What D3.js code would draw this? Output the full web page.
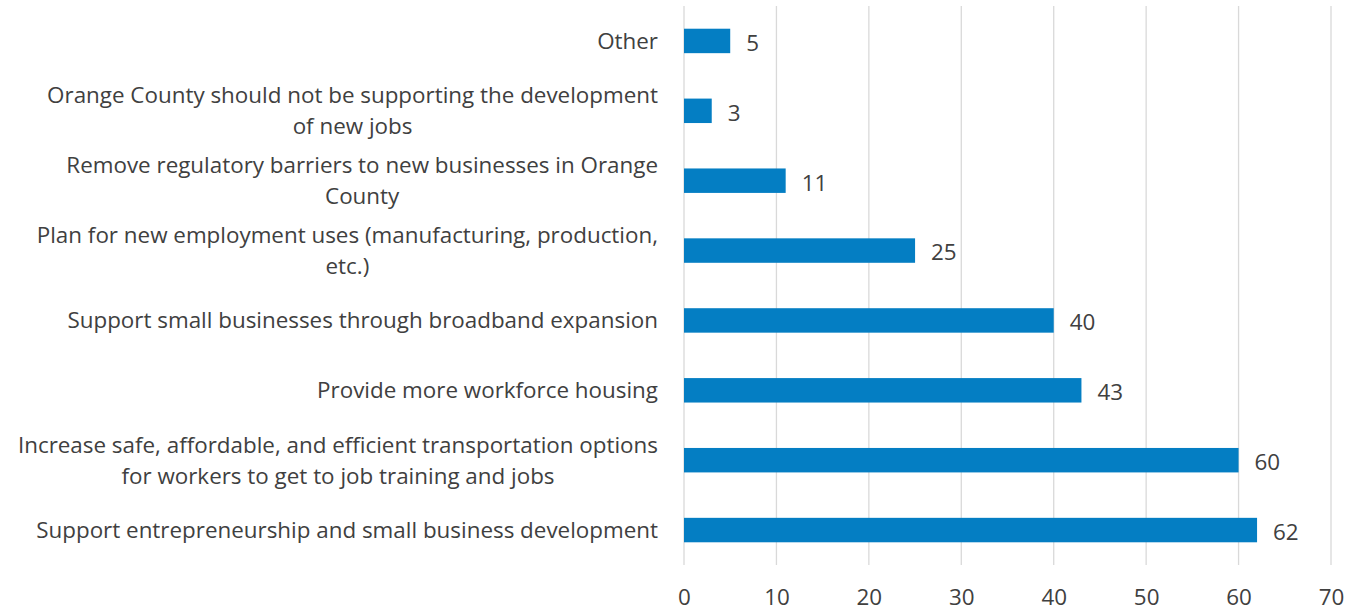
<!DOCTYPE html>
<html><head><meta charset="utf-8">
<script src="https://cdn.jsdelivr.net/npm/d3@7"></script>
<style>body{margin:0;background:#fff}svg{display:block}</style>
</head><body>
<svg id="c" width="1349" height="612"></svg>
<script>
const categories = [
  "Other",
  "Orange County should not be supporting the development\nof new jobs",
  "Remove regulatory barriers to new businesses in Orange\nCounty",
  "Plan for new employment uses (manufacturing, production,\netc.)",
  "Support small businesses through broadband expansion",
  "Provide more workforce housing",
  "Increase safe, affordable, and efficient transportation options\nfor workers to get to job training and jobs",
  "Support entrepreneurship and small business development"
];
const values = [5, 3, 11, 25, 40, 43, 60, 62];
const xTicks = [0, 10, 20, 30, 40, 50, 60, 70];

(function () {
const svg = d3.select("#c");
const font = "'Open Sans', sans-serif";
const fs = 22.4;
const mL = 684, mR = 1331, mT = 6, mB = 565;
const x = d3.scaleLinear().domain([0, 70]).range([mL, mR]);
const y = d3.scaleBand().domain(categories).range([mT, mB]).paddingInner(0.65).paddingOuter(0.325);

svg.append("g").selectAll("line").data(xTicks).join("line")
  .attr("x1", d => x(d)).attr("x2", d => x(d))
  .attr("y1", mT).attr("y2", mB)
  .attr("stroke", "#d9d9d9").attr("stroke-width", 1.3);

const xa = svg.append("g").attr("transform", `translate(0,${mB})`)
  .call(d3.axisBottom(x).tickValues(xTicks).tickSize(0).tickPadding(24));
xa.select(".domain").remove();
xa.selectAll("text").attr("font-family", font).attr("font-size", fs).attr("fill", "#404040");

svg.append("g").selectAll("rect").data(values).join("rect")
  .attr("x", x(0)).attr("y", (d, i) => y(categories[i]))
  .attr("width", d => x(d) - x(0)).attr("height", y.bandwidth())
  .attr("fill", "#047ec3");

svg.append("g").selectAll("text").data(values).join("text")
  .attr("x", d => x(d) + 16).attr("y", (d, i) => y(categories[i]) + y.bandwidth() / 2 + 2)
  .attr("dy", "0.35em").attr("font-family", font).attr("font-size", fs).attr("fill", "#404040")
  .text(d => d);

const lh = 31;
const lg = svg.append("g");
categories.forEach(c => {
  const lines = c.split("\n");
  const cy = y(c) + y.bandwidth() / 2;
  const t = lg.append("text").attr("text-anchor", "middle")
    .attr("font-family", font).attr("font-size", fs).attr("fill", "#404040");
  lines.forEach((ln, j) => {
    t.append("tspan").attr("x", 0).attr("y", cy + (j - (lines.length - 1) / 2) * lh)
      .attr("dy", "0.35em").text(ln);
  });
  const w = t.node().getBBox().width;
  t.attr("transform", `translate(${658 - w / 2},0)`);
});
})();
</script>
</body></html>
